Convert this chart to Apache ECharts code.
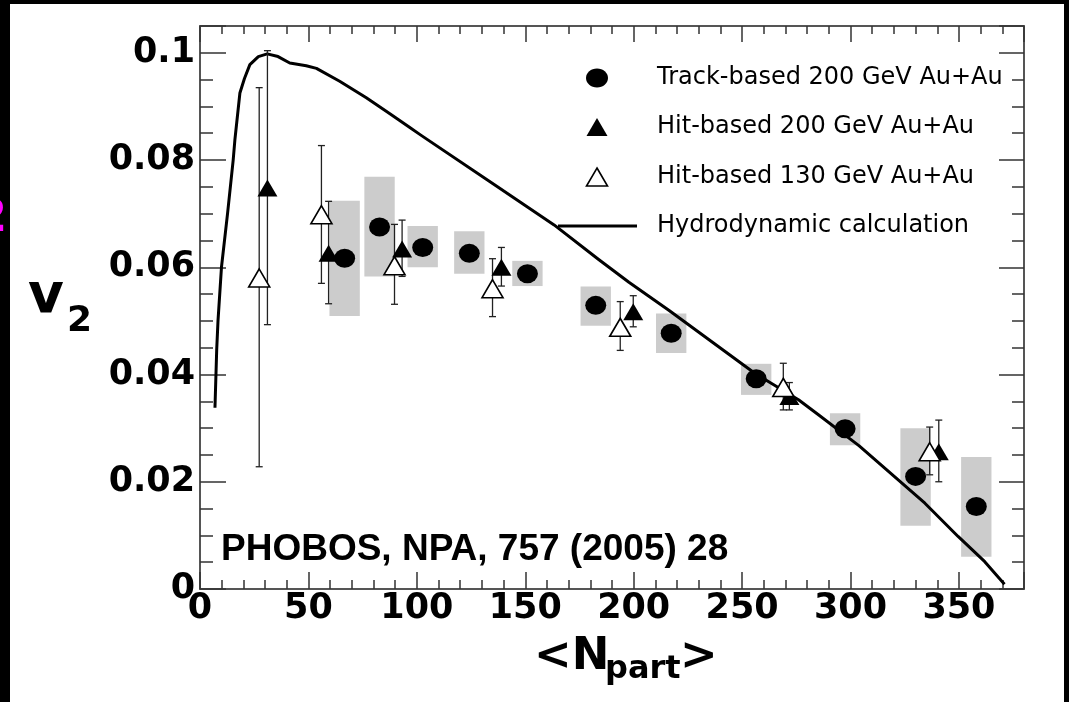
<!DOCTYPE html>
<html><head><meta charset="utf-8">
<script src="https://cdn.jsdelivr.net/npm/echarts@6/dist/echarts.min.js"></script>
<style>html,body{margin:0;padding:0;background:#000}#c{width:1069px;height:702px}</style>
</head><body><div id="c"></div>
<script>
// ---- data ----
const xTickLabels = [0, 50, 100, 150, 200, 250, 300, 350];
const yTickLabels = ['0', '0.02', '0.04', '0.06', '0.08', '0.1'];

const trackN     = [66.7, 82.8, 102.7, 124.2, 151.0, 182.5, 217.3, 256.5, 297.5, 330.0, 358.0];
const trackV     = [0.0617, 0.0675, 0.0637, 0.0626, 0.0588, 0.0529, 0.0477, 0.0392, 0.0299, 0.0210, 0.0154];
const trackSysLo = [0.0509, 0.0583, 0.0600, 0.0588, 0.0565, 0.0491, 0.0440, 0.0362, 0.0268, 0.0118, 0.0060];
const trackSysHi = [0.0724, 0.0769, 0.0677, 0.0667, 0.0612, 0.0564, 0.0514, 0.0420, 0.0328, 0.0300, 0.0246];

const hit200N  = [31.1, 59.3, 93.2, 139.0, 199.8, 271.8, 340.7];
const hit200V  = [0.0748, 0.0626, 0.0634, 0.0600, 0.0517, 0.0359, 0.0256];
const hit200Lo = [0.0493, 0.0532, 0.0583, 0.0565, 0.0489, 0.0334, 0.0200];
const hit200Hi = [0.1004, 0.0723, 0.0688, 0.0637, 0.0547, 0.0385, 0.0315];

const hit130N  = [27.3, 56.0, 89.7, 134.9, 193.8, 269.0, 336.5];
const hit130V  = [0.0580, 0.0698, 0.0603, 0.0560, 0.0488, 0.0376, 0.0256];
const hit130Lo = [0.0228, 0.0570, 0.0531, 0.0508, 0.0445, 0.0334, 0.0213];
const hit130Hi = [0.0935, 0.0827, 0.0680, 0.0616, 0.0536, 0.0421, 0.0302];

const hydroN = [6.9, 7.7, 8.3, 9.9, 12.7, 15.3, 16.1, 18.4, 20.5, 23.0, 26.9, 31.0, 36.0, 41.4, 49.0, 53.7, 64.4, 76.7, 87.4, 96.6, 102.0, 136.5, 163.3, 184.0, 197.8, 216.2, 256.0, 276.0, 285.2, 304.0, 334.3, 349.6, 361.9, 371.0];
const hydroV = [0.0338, 0.0446, 0.0500, 0.0600, 0.0700, 0.0800, 0.0838, 0.0925, 0.0952, 0.0978, 0.0993, 0.0998, 0.0993, 0.0981, 0.0976, 0.0971, 0.0947, 0.0916, 0.0887, 0.0861, 0.0846, 0.0752, 0.0679, 0.0614, 0.0572, 0.0520, 0.0402, 0.0353, 0.0325, 0.0267, 0.0160, 0.0098, 0.0051, 0.0009];

const seriesNames = ['Track-based 200 GeV Au+Au', 'Hit-based 200 GeV Au+Au', 'Hit-based 130 GeV Au+Au', 'Hydrodynamic calculation'];

// ---- chart ----
const chart = echarts.init(document.getElementById('c'), null, {renderer: 'canvas'});
const BOX_HALF = 7;      // half width of systematic boxes (Npart units)
const CAP = 3.5;         // error bar cap half width (px)

const AX_COLOR = '#555', TICK_COLOR = '#333';
function xAxisDef(pos, interval, len, showLine, showLabel) {
  return {
    type: 'value', position: pos, min: 0, max: 380, interval: interval,
    axisLine: {show: showLine, onZero: false, lineStyle: {color: AX_COLOR, width: 2}},
    axisTick: {show: true, inside: true, length: len, lineStyle: {color: TICK_COLOR, width: 1.5}},
    axisLabel: showLabel ? {
      show: true, margin: 2, color: '#000', fontFamily: 'DejaVu Sans', fontWeight: 'bold', fontSize: 35,
      formatter: v => xTickLabels.indexOf(Math.round(v)) >= 0 && Math.abs(v - Math.round(v)) < 1e-6 ? String(Math.round(v)) : ''
    } : {show: false},
    splitLine: {show: false}
  };
}
function yAxisDef(pos, interval, len, showLine, showLabel) {
  return {
    type: 'value', position: pos, min: 0, max: 0.105, interval: interval,
    axisLine: {show: showLine, onZero: false, lineStyle: {color: AX_COLOR, width: 2}},
    axisTick: {show: true, inside: true, length: len, lineStyle: {color: TICK_COLOR, width: 1.5}},
    axisLabel: showLabel ? {
      show: true, margin: 5, color: '#000', fontFamily: 'DejaVu Sans', fontWeight: 'bold', fontSize: 35,
      formatter: v => { const s = String(+v.toFixed(3)); return yTickLabels.indexOf(s) >= 0 ? s : ''; }
    } : {show: false},
    splitLine: {show: false}
  };
}

function errBar() {
  return function (params, api) {
    const x = api.value(0);
    const a = api.coord([x, api.value(2)]);
    const b = api.coord([x, api.value(1)]);
    const st = {stroke: '#222', lineWidth: 1.3};
    return {type: 'group', children: [
      {type: 'line', shape: {x1: a[0], y1: a[1], x2: b[0], y2: b[1]}, style: st},
      {type: 'line', shape: {x1: a[0] - CAP, y1: a[1], x2: a[0] + CAP, y2: a[1]}, style: st},
      {type: 'line', shape: {x1: b[0] - CAP, y1: b[1], x2: b[0] + CAP, y2: b[1]}, style: st}
    ]};
  };
}

// legend (drawn as graphics, ROOT style)
const LG_X = 597, LG_ROWS = [78, 127, 177, 226], LG_TEXT_X = 657;
const legendFont = '24px "DejaVu Sans"';
function tri(cx, cy, w, h) { return [[cx, cy - h / 2], [cx + w / 2, cy + h / 2], [cx - w / 2, cy + h / 2]]; }
const legendGraphics = [
  {type: 'ellipse', shape: {cx: LG_X, cy: LG_ROWS[0], rx: 11, ry: 9.5}, style: {fill: '#000'}, z: 10},
  {type: 'polygon', shape: {points: tri(LG_X, LG_ROWS[1], 21, 18)}, style: {fill: '#000'}, z: 10},
  {type: 'polygon', shape: {points: tri(LG_X, LG_ROWS[2], 21, 18)}, style: {fill: '#fff', stroke: '#000', lineWidth: 1.6}, z: 10},
  {type: 'line', shape: {x1: 558, y1: LG_ROWS[3], x2: 637, y2: LG_ROWS[3]}, style: {stroke: '#000', lineWidth: 3}, z: 10}
].concat(seriesNames.map((s, i) => ({
  type: 'text', x: LG_TEXT_X, y: LG_ROWS[i], z: 10,
  style: {text: s, align: 'left', verticalAlign: 'middle', fill: '#000', font: legendFont}
})));

const option = {
  backgroundColor: '#000',
  animation: false,
  grid: {left: 200, top: 26, width: 824, height: 563, containLabel: false},
  xAxis: [
    xAxisDef('bottom', 50, 17, true, true),
    xAxisDef('bottom', 10, 9, false, false),
    xAxisDef('top', 50, 16, true, false),
    xAxisDef('top', 10, 8, false, false)
  ],
  yAxis: [
    yAxisDef('left', 0.02, 26, true, true),
    yAxisDef('left', 0.005, 13, false, false),
    yAxisDef('right', 0.02, 25, true, false),
    yAxisDef('right', 0.005, 12, false, false)
  ],
  graphic: [
    {type: 'rect', left: 10, top: 4, shape: {width: 1054, height: 700}, style: {fill: '#fff'}, z: -100, silent: true},
    {type: 'text', x: 7, y: 219, z: 100, style: {text: '2', align: 'right', verticalAlign: 'middle', fill: '#ff00ff', font: 'bold 45px "DejaVu Sans"'}},
    {type: 'text', x: 28, y: 298, style: {text: 'v', align: 'left', verticalAlign: 'middle', fill: '#000', font: 'bold 55px "DejaVu Sans"'}},
    {type: 'text', x: 67, y: 322, style: {text: '2', align: 'left', verticalAlign: 'middle', fill: '#000', font: 'bold 36px "DejaVu Sans"'}},
    {type: 'text', x: 534, y: 657, style: {text: '<N', align: 'left', verticalAlign: 'middle', fill: '#000', font: 'bold 45px "DejaVu Sans"'}},
    {type: 'text', x: 605, y: 670, style: {text: 'part', align: 'left', verticalAlign: 'middle', fill: '#000', font: 'bold 32px "DejaVu Sans"'}},
    {type: 'text', x: 680, y: 657, style: {text: '>', align: 'left', verticalAlign: 'middle', fill: '#000', font: 'bold 45px "DejaVu Sans"'}},
    {type: 'text', x: 221, y: 550, style: {text: 'PHOBOS, NPA, 757 (2005) 28', align: 'left', verticalAlign: 'middle', fill: '#000', font: 'bold 37px "Liberation Sans"'}}
  ].concat(legendGraphics),
  series: [
    {
      name: 'sys', type: 'custom', xAxisIndex: 0, yAxisIndex: 0, z: 1, silent: true,
      data: trackN.map((n, i) => [n, trackSysLo[i], trackSysHi[i]]),
      renderItem: function (params, api) {
        const p1 = api.coord([api.value(0) - BOX_HALF, api.value(2)]);
        const p2 = api.coord([api.value(0) + BOX_HALF, api.value(1)]);
        return {type: 'rect', shape: {x: p1[0], y: p1[1], width: p2[0] - p1[0], height: p2[1] - p1[1]}, style: {fill: '#cccccc'}};
      }
    },
    {
      name: seriesNames[3], type: 'line', xAxisIndex: 0, yAxisIndex: 0, z: 3,
      data: hydroN.map((n, i) => [n, hydroV[i]]),
      showSymbol: false, symbol: 'none', smooth: false,
      lineStyle: {color: '#000', width: 3, join: 'round'}, itemStyle: {color: '#000'}
    },
    {
      name: 'err200', type: 'custom', xAxisIndex: 0, yAxisIndex: 0, z: 4, silent: true,
      data: hit200N.map((n, i) => [n, hit200Lo[i], hit200Hi[i]]), renderItem: errBar()
    },
    {
      name: 'err130', type: 'custom', xAxisIndex: 0, yAxisIndex: 0, z: 4, silent: true,
      data: hit130N.map((n, i) => [n, hit130Lo[i], hit130Hi[i]]), renderItem: errBar()
    },
    {
      name: seriesNames[0], type: 'scatter', xAxisIndex: 0, yAxisIndex: 0, z: 5,
      data: trackN.map((n, i) => [n, trackV[i]]),
      symbol: 'circle', symbolSize: [21, 19], itemStyle: {color: '#000', opacity: 1}
    },
    {
      name: seriesNames[1], type: 'scatter', xAxisIndex: 0, yAxisIndex: 0, z: 6,
      data: hit200N.map((n, i) => [n, hit200V[i]]),
      symbol: 'triangle', symbolSize: [20, 17], itemStyle: {color: '#000', opacity: 1}
    },
    {
      name: seriesNames[2], type: 'scatter', xAxisIndex: 0, yAxisIndex: 0, z: 6,
      data: hit130N.map((n, i) => [n, hit130V[i]]),
      symbol: 'triangle', symbolSize: [21, 18], itemStyle: {color: '#fff', borderColor: '#000', borderWidth: 1.6, opacity: 1}
    }
  ]
};
chart.setOption(option);
</script>
</body></html>
